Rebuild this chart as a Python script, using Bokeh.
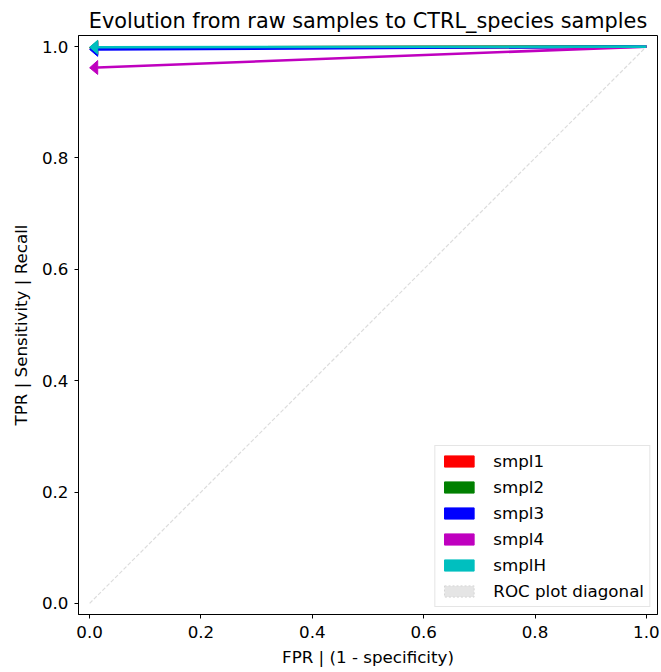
from bokeh.plotting import figure
from bokeh.models import (ColumnDataSource, Legend, LegendItem,
                          FixedTicker, Range1d, NumeralTickFormatter)
from bokeh.embed import file_html
from bokeh.resources import INLINE

# ---- data ----
samples = ["smpl1", "smpl2", "smpl3", "smpl4", "smplH"]
colors = ["#ff0000", "#008000", "#0000ff", "#bf00bf", "#00bfbf"]
fpr_start = [1.0, 1.0, 1.0, 1.0, 1.0]
tpr_start = [1.0, 1.0, 1.0, 1.0, 1.0]
fpr_end = [0.0, 0.0, 0.0, 0.0, 0.0]
tpr_end = [0.998, 0.998, 0.995, 0.962, 0.999]
diag_x = [0.0, 1.0]
diag_y = [0.0, 1.0]
tick_values = [0.0, 0.2, 0.4, 0.6, 0.8, 1.0]

FONT = "DejaVu Sans"
HEAD_LEN = 0.0145   # arrow head length (data units, style)
HEAD_HALF = 0.0125  # arrow head half width (data units, style)

p = figure(width=661, height=672, output_backend="svg", toolbar_location=None,
           x_range=Range1d(-0.02, 1.02), y_range=Range1d(-0.02, 1.02),
           min_border_left=78, min_border_right=4, min_border_top=35, min_border_bottom=58,
           title="Evolution from raw samples to CTRL_species samples")

p.title.text_font = FONT
p.title.text_font_size = "20.8px"
p.title.text_font_style = "normal"
p.title.align = "center"
p.title.text_color = "black"
p.title.standoff = 5

p.grid.visible = False
p.outline_line_color = "black"
p.outline_line_width = 1
p.outline_line_alpha = 1

for ax in (p.xaxis[0], p.yaxis[0]):
    ax.ticker = FixedTicker(ticks=tick_values)
    ax.formatter = NumeralTickFormatter(format="0.0")
    ax.minor_tick_line_color = None
    ax.major_tick_in = 0
    ax.major_tick_out = 4
    ax.major_tick_line_color = "black"
    ax.axis_line_color = "black"
    ax.major_label_text_font = FONT
    ax.major_label_text_font_size = "16.7px"
    ax.major_label_text_color = "black"
    ax.axis_label_text_font = FONT
    ax.axis_label_text_font_size = "16.7px"
    ax.axis_label_text_font_style = "normal"
    ax.axis_label_text_color = "black"

p.xaxis.axis_label = "FPR | (1 - specificity)"
p.yaxis.axis_label = "TPR | Sensitivity | Recall"
p.xaxis.major_label_standoff = 7
p.yaxis.major_label_standoff = 6
p.xaxis.axis_label_standoff = 6
p.yaxis.axis_label_standoff = 8

# diagonal
p.line(diag_x, diag_y, line_color="#dcdcdc", line_width=1.2, line_dash="4 2")

# arrows: shaft segments + head triangles computed from the data points
items = []
for name, c, x0, y0, x1, y1 in zip(samples, colors, fpr_start, tpr_start, fpr_end, tpr_end):
    slope = (y0 - y1) / (x0 - x1)
    xb = x1 + HEAD_LEN
    yb = y1 + slope * HEAD_LEN
    p.segment(x0=[x0], y0=[y0], x1=[xb], y1=[yb], line_color=c, line_width=2.6)
    head = p.patches(xs=[[x1, xb, xb]], ys=[[y1, yb + HEAD_HALF, yb - HEAD_HALF]],
                     fill_color=c, line_color=c, line_width=1)
    items.append(LegendItem(label=name, renderers=[head]))

rd = p.quad(left=[diag_x[0]], right=[diag_x[0]], top=[diag_y[0]], bottom=[diag_y[0]],
            fill_color="#e5e5e5", line_color="#d5d5d5", line_dash="2 2", line_width=1)
items.append(LegendItem(label="ROC plot diagonal", renderers=[rd]))

legend = Legend(items=items, location="bottom_right")
legend.label_text_font = FONT
legend.label_text_font_size = "16.7px"
legend.label_text_color = "black"
legend.glyph_width = 37
legend.glyph_height = 14
legend.label_height = 19
legend.spacing = 6
legend.padding = 5
legend.margin = 7
legend.label_standoff = 16
legend.border_line_color = "#cccccc"
legend.border_line_width = 1
legend.background_fill_alpha = 0.8
p.add_layout(legend)

open("out.html", "w").write(file_html(p, INLINE))
